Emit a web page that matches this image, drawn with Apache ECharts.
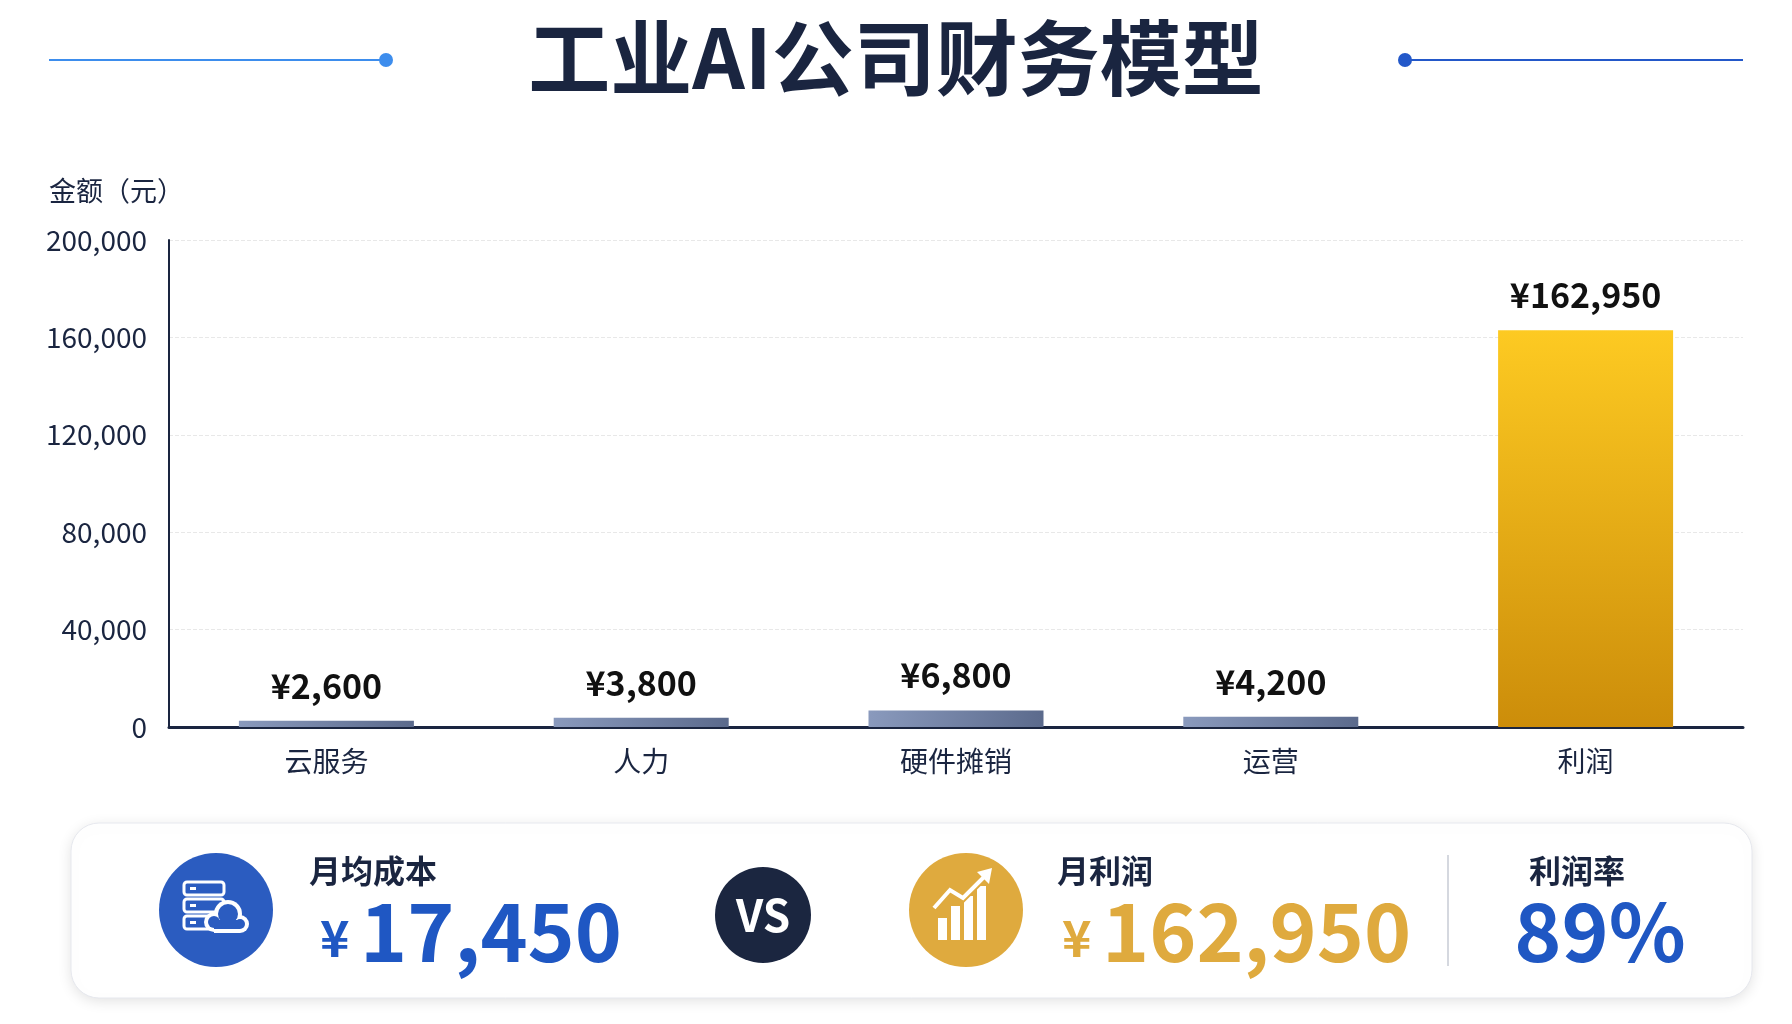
<!DOCTYPE html>
<html><head><meta charset="utf-8">
<script src="https://cdn.jsdelivr.net/npm/echarts@6/dist/echarts.min.js"></script>
<style>html,body{margin:0;padding:0;background:#fff}#c{width:1792px;height:1024px}</style>
</head><body><div id="c"></div>
<script>
const categories = ['云服务','人力','硬件摊销','运营','利润'];
const values = [2600, 3800, 6800, 4200, 162950];
const yTicks = [0, 40000, 80000, 120000, 160000, 200000];
const summary = {cost:'¥17,450', profit:'¥162,950', rate:'89%'};

const F = '"Noto Sans CJK SC","Noto Sans",sans-serif';
const dark = '#1a2540';
const greyGrad = new echarts.graphic.LinearGradient(0,0,1,1,[{offset:0,color:'#8a9abd'},{offset:1,color:'#5b6a8c'}]);
const goldGrad = new echarts.graphic.LinearGradient(0,0,0,1,[{offset:0,color:'#fdca22'},{offset:1,color:'#cc8d0a'}]);

const chart = echarts.init(document.getElementById('c'));
const g = [];
g.push({type:'line',shape:{x1:49,y1:60,x2:386,y2:60},style:{stroke:'#3d8ded',lineWidth:2}});
g.push({type:'circle',shape:{cx:386,cy:60,r:7},style:{fill:'#3d8ded'}});
g.push({type:'line',shape:{x1:1405,y1:60,x2:1743,y2:60},style:{stroke:'#2358c9',lineWidth:2}});
g.push({type:'circle',shape:{cx:1405,cy:60,r:7},style:{fill:'#2358c9'}});
g.push({type:'rect',shape:{x:71,y:823,width:1681,height:175,r:28},style:{fill:'#fff',stroke:'#e6e8ee',lineWidth:1,shadowBlur:14,shadowColor:'rgba(0,0,0,0.12)',shadowOffsetY:3},z:0});
// cost icon
g.push({type:'circle',shape:{cx:216,cy:910,r:57},style:{fill:'#2b5cc0'},z:2});
[0,1,2].forEach(i=>{g.push({type:'rect',shape:{x:184,y:882+i*17,width:40,height:13,r:3},style:{fill:'none',stroke:'#fff',lineWidth:3},z:3});
 g.push({type:'rect',shape:{x:190,y:887+i*17,width:6,height:3},style:{fill:'#fff'},z:3});});
[[214,922,10],[228,914,14],[240,924,9]].forEach(c=>g.push({type:'circle',shape:{cx:c[0],cy:c[1],r:c[2]},style:{fill:'#fff'},z:4}));
g.push({type:'rect',shape:{x:214,y:920,width:26,height:13},style:{fill:'#fff'},z:4});
[[214,922,6],[228,914,10],[240,924,5]].forEach(c=>g.push({type:'circle',shape:{cx:c[0],cy:c[1],r:c[2]},style:{fill:'#2b5cc0'},z:5}));
g.push({type:'rect',shape:{x:214,y:920,width:26,height:9},style:{fill:'#2b5cc0'},z:5});
// VS
g.push({type:'circle',shape:{cx:763,cy:915,r:48},style:{fill:'#1b2640'},z:2});
g.push({type:'text',style:{x:763,y:915,text:'VS',fill:'#fff',font:'bold 44px '+F,align:'center',verticalAlign:'middle'},z:3});
// profit icon
g.push({type:'circle',shape:{cx:966,cy:910,r:57},style:{fill:'#dfaa3e'},z:2});
[[938,918],[951,906],[964,896],[977,886]].forEach(b=>g.push({type:'rect',shape:{x:b[0],y:b[1],width:9,height:940-b[1]},style:{fill:'#fff'},z:3}));
g.push({type:'polyline',shape:{points:[[934,908],[950,890],[963,898],[985,876]]},style:{stroke:'#dfaa3e',lineWidth:8,fill:null},z:4});
g.push({type:'polyline',shape:{points:[[934,908],[950,890],[963,898],[985,876]]},style:{stroke:'#fff',lineWidth:4,fill:null},z:5});
g.push({type:'polygon',shape:{points:[[992,868],[977,872],[989,884]]},style:{fill:'#fff'},z:5});
// texts
g.push({type:'text',style:{x:309,y:871,text:'月均成本',fill:dark,font:'bold 32px '+F,verticalAlign:'middle'}});
g.push({type:'text',style:{x:320,y:938,text:'¥',fill:'#1f57c3',font:'bold 50px '+F,verticalAlign:'middle'}});
g.push({type:'text',style:{x:360,y:932,text:summary.cost.slice(1),fill:'#1f57c3',font:'bold 80px '+F,verticalAlign:'middle'}});
g.push({type:'text',style:{x:1057,y:871,text:'月利润',fill:dark,font:'bold 32px '+F,verticalAlign:'middle'}});
g.push({type:'text',style:{x:1062,y:938,text:'¥',fill:'#dfaa3e',font:'bold 50px '+F,verticalAlign:'middle'}});
g.push({type:'text',style:{x:1102,y:932,text:summary.profit.slice(1),fill:'#dfaa3e',font:'bold 80px '+F,verticalAlign:'middle'}});
g.push({type:'line',shape:{x1:1448,y1:855,x2:1448,y2:966},style:{stroke:'#d5d8df',lineWidth:2}});
g.push({type:'text',style:{x:1577,y:871,text:'利润率',fill:dark,font:'bold 32px '+F,align:'center',verticalAlign:'middle'}});
g.push({type:'text',style:{x:1600,y:932,text:summary.rate,fill:'#1f57c3',font:'bold 80px '+F,align:'center',verticalAlign:'middle'}});

chart.setOption({
  animation:false,
  title:{text:'工业AI公司财务模型',left:'center',top:12,textStyle:{fontFamily:F,fontSize:82,fontWeight:'bold',color:dark}},
  grid:{left:169,right:49,top:240,bottom:297},
  xAxis:{type:'category',data:categories,axisLine:{lineStyle:{color:dark,width:3}},axisTick:{show:false},
    axisLabel:{color:dark,fontSize:28,fontFamily:F,margin:20}},
  yAxis:{type:'value',min:0,max:200000,interval:40000,name:'金额（元）',nameLocation:'end',nameGap:36,
    nameTextStyle:{color:dark,fontSize:27,fontFamily:F,align:'left',padding:[0,0,0,-120]},
    axisLine:{show:true,lineStyle:{color:dark,width:2}},axisTick:{show:false},
    axisLabel:{color:dark,fontSize:28,fontFamily:F,margin:22,formatter:v=>yTicks.includes(v)?v.toLocaleString('en-US'):''},
    splitLine:{lineStyle:{color:'#e8e8e8',type:'dashed'}}},
  series:[{type:'bar',barWidth:175,data:values.map((v,i)=>({value:v,itemStyle:{color:i===4?goldGrad:greyGrad}})),
    label:{show:true,position:'top',distance:18,formatter:p=>'¥'+p.value.toLocaleString('en-US'),
      color:'#111',fontSize:34,fontWeight:'bold',fontFamily:F}}],
  graphic:g
});
</script></body></html>
